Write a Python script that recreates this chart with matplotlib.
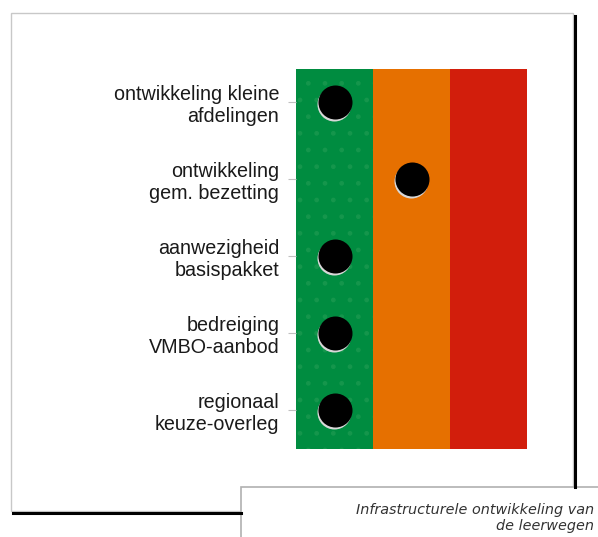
import matplotlib.pyplot as plt
from matplotlib.patches import Rectangle
from matplotlib.lines import Line2D

categories = ["ontwikkeling kleine\nafdelingen",
              "ontwikkeling\ngem. bezetting",
              "aanwezigheid\nbasispakket",
              "bedreiging\nVMBO-aanbod",
              "regionaal\nkeuze-overleg"]
scores = [0, 1, 0, 0, 0]          # column index: 0 = green, 1 = orange, 2 = red
zone_colors = ["#008C40", "#E67000", "#D21E0C"]
caption = "Infrastructurele ontwikkeling van\nde leerwegen"

W, H = 598, 537
fig = plt.figure(figsize=(W / 100, H / 100), dpi=100)
fig.patch.set_facecolor("white")

def fx(px):
    return px / W

def fy(py):
    return 1 - py / H

# outer frame with shadow
fig.add_artist(Line2D([fx(575), fx(575)], [fy(16), fy(487)], color="black", lw=2.2))
fig.add_artist(Line2D([fx(13), fx(241)], [fy(512.5), fy(512.5)], color="black", lw=2.2))
fig.add_artist(Rectangle((fx(11), fy(511)), fx(573 - 11), (511 - 13) / H,
                         fill=False, edgecolor="#c8c8c8", lw=1.0))
# caption box
fig.add_artist(Rectangle((fx(241), fy(540)), fx(400), (540 - 487) / H,
                         facecolor="white", edgecolor="#b0b0b0", lw=1.2))
fig.text(fx(594), fy(518), caption, ha="right", va="center", fontsize=10.4,
         style="italic", family="DejaVu Sans", color="#333333",
         linespacing=1.2)

ax = fig.add_axes([fx(296), fy(449), fx(527 - 296), (449 - 69) / H])
for i, c in enumerate(zone_colors):
    ax.axvspan(i, i + 1, color=c, lw=0)
# faint dot pattern on green zone
ax.add_patch(Rectangle((0, -0.45), 1, 4.95, facecolor="none",
                       edgecolor="#15964c", hatch=".", lw=0))

xs = [s + 0.5 for s in scores]
ys = list(range(len(categories)))
ax.scatter([x - 0.012 for x in xs], [y + 0.02 for y in ys], s=600,
           color="#d8d8d8", zorder=3, linewidths=0)
ax.scatter(xs, ys, s=600, color="black", zorder=4, linewidths=0)

ax.set_xlim(0, 3)
ax.set_ylim(4.5, -0.43)
ax.set_yticks(ys)
ax.set_yticklabels(categories, fontsize=14.2, family="Liberation Sans",
                   color="#1a1a1a", linespacing=1.17)
ax.tick_params(axis="y", length=6, color="#c0c0c0", pad=6)
ax.set_xticks([])
for s in ax.spines.values():
    s.set_visible(False)

fig.savefig("out.png", dpi=100)
